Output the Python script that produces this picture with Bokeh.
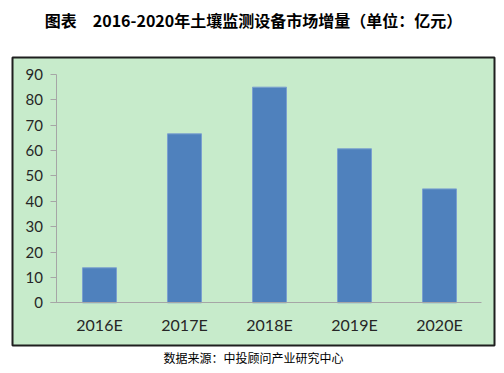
from bokeh.plotting import figure
from bokeh.models import LinearAxis, FixedTicker, Range1d, Title
from bokeh.embed import file_html
from bokeh.resources import INLINE

# ---- data ----
categories = ["2016E", "2017E", "2018E", "2019E", "2020E"]
values = [13.8, 66.6, 85.0, 60.7, 44.9]
yticks = [0, 10, 20, 30, 40, 50, 60, 70, 80, 90]
title_text = "图表\u30002016-2020年土壤监测设备市场增量（单位：亿元）"
source_text = "数据来源：中投顾问产业研究中心"

positions = list(range(len(categories)))

p = figure(width=504, height=373, output_backend="svg", toolbar_location=None,
           x_range=Range1d(-1.0235, 4.647), y_range=Range1d(-16.83, 96.69),
           x_axis_location=None, y_axis_location=None,
           min_border_left=12, min_border_right=10, min_border_top=57, min_border_bottom=28)

p.background_fill_color = "#C7EBCB"
p.border_fill_color = "white"
p.outline_line_color = "#1f1f1f"
p.outline_line_width = 2
p.xgrid.visible = False
p.ygrid.visible = False

p.vbar(x=positions, top=values, bottom=0, width=0.4,
       fill_color="#4F81BD", line_color="#7BA0CF", line_width=1)

yaxis = LinearAxis(fixed_location=-0.5, ticker=FixedTicker(ticks=yticks), bounds=(0, 90))
yaxis.axis_line_color = "#A6A6A6"
yaxis.major_tick_line_color = "#A6A6A6"
yaxis.major_tick_out = 6
yaxis.major_tick_in = 0
yaxis.minor_tick_line_color = None
yaxis.major_label_standoff = 8
yaxis.major_label_text_font = "Lato"
yaxis.major_label_text_font_size = "15px"
yaxis.major_label_text_color = "#262626"
p.add_layout(yaxis, "left")

xaxis = LinearAxis(fixed_location=0, ticker=FixedTicker(ticks=positions),
                   major_label_overrides={i: c for i, c in enumerate(categories)},
                   bounds=(-0.576, 4.494))
xaxis.axis_line_color = "#A6A6A6"
xaxis.major_tick_line_color = None
xaxis.minor_tick_line_color = None
xaxis.major_tick_out = 0
xaxis.major_tick_in = 0
xaxis.major_label_standoff = 12
xaxis.major_label_text_font = "Lato"
xaxis.major_label_text_font_size = "16px"
xaxis.major_label_text_color = "#262626"
p.add_layout(xaxis, "below")

# spacer between box and title
p.add_layout(Title(text=" ", text_font_size="1px", standoff=21), "above")
p.title = Title(text=title_text, align="center", text_font="Noto Sans CJK SC",
                text_font_size="16px", text_font_style="bold", text_color="black",
                standoff=4)

p.add_layout(Title(text=source_text, align="center", text_font="Noto Sans CJK SC",
                   text_font_size="12px", text_font_style="normal", text_color="black",
                   standoff=2), "below")

open("out.html", "w").write(file_html(p, INLINE))
